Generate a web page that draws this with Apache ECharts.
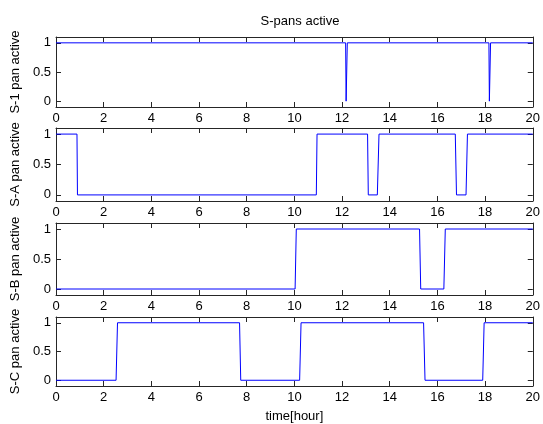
<!DOCTYPE html>
<html><head><meta charset="utf-8">
<script src="https://cdn.jsdelivr.net/npm/echarts@6/dist/echarts.min.js"></script>
<style>html,body{margin:0;padding:0;background:#fff}#c{width:543px;height:424px}</style>
</head><body><div id="c"></div>
<script>
var titleText = 'S-pans active';
var xLabel = 'time[hour]';
var xTicks = [0,2,4,6,8,10,12,14,16,18,20];
var yTicks = [0,0.5,1];
var panelNames = ['S-1 pan active','S-A pan active','S-B pan active','S-C pan active'];

var s1Time = [0, 12.15, 12.17, 12.22, 18.16, 18.18, 18.23, 20];
var s1Val  = [1, 1,     0,     1,     1,     0,     1,     1];
var sATime = [0, 0.88, 0.9, 10.92, 10.95, 13.07, 13.1, 13.48, 13.55, 16.75, 16.8, 17.2, 17.26, 20];
var sAVal  = [1, 1,    0,   0,     1,     1,     0,    0,     1,     1,     0,    0,    1,     1];
var sBTime = [0, 10.03, 10.08, 15.25, 15.3, 16.27, 16.33, 20];
var sBVal  = [0, 0,     1,     1,     0,    0,     1,     1];
var sCTime = [0, 2.52, 2.58, 7.7, 7.75, 10.22, 10.28, 15.42, 15.48, 17.9, 17.96, 20];
var sCVal  = [0, 0,    1,    1,   0,    0,     1,     1,     0,     0,    1,     1];

var seriesTimes = [s1Time, sATime, sBTime, sCTime];
var seriesVals = [s1Val, sAVal, sBVal, sCVal];

var font = 'Liberation Sans, Arial, sans-serif';
var axisColor = '#262626';
var grids = [
  {left:56, right:9, top:37, height:70},
  {left:56, right:9, top:128, height:73},
  {left:56, right:9, top:223, height:72},
  {left:56, right:9, top:317, height:71}
];
var xAxes = [], yAxes = [], series = [];
for (var i = 0; i < 4; i++) {
  xAxes.push({
    gridIndex:i, type:'value', min:0, max:20, interval:2, position:'bottom',
    axisLine:{show:true, onZero:false, lineStyle:{color:axisColor, width:1}},
    axisTick:{show:true, inside:true, length:5, lineStyle:{color:axisColor}},
    axisLabel:{show:true, color:'#000', fontFamily:font, fontSize:13, margin:5, showMaxLabel:true, showMinLabel:true},
    splitLine:{show:false},
    name: i === 3 ? xLabel : '', nameLocation:'middle', nameGap:24,
    nameTextStyle:{color:'#000', fontFamily:font, fontSize:13}
  });
  xAxes.push({
    gridIndex:i, type:'value', min:0, max:20, interval:2, position:'top',
    axisLine:{show:true, onZero:false, lineStyle:{color:axisColor, width:1}},
    axisTick:{show:true, inside:true, length:5, lineStyle:{color:axisColor}},
    axisLabel:{show:false}, splitLine:{show:false}
  });
  yAxes.push({
    gridIndex:i, type:'value', min:-0.1, max:1.1, position:'left',
    axisLine:{show:true, onZero:false, lineStyle:{color:axisColor, width:1}},
    axisTick:{show:true, inside:true, length:5, customValues:yTicks, lineStyle:{color:axisColor}},
    axisLabel:{show:true, customValues:yTicks, color:'#000', fontFamily:font, fontSize:13, margin:5,
      formatter:function(v){return String(v);}},
    splitLine:{show:false},
    name: panelNames[i], nameLocation:'middle', nameGap:30,
    nameTextStyle:{color:'#000', fontFamily:font, fontSize:13}
  });
  yAxes.push({
    gridIndex:i, type:'value', min:-0.1, max:1.1, position:'right',
    axisLine:{show:true, onZero:false, lineStyle:{color:axisColor, width:1}},
    axisTick:{show:true, inside:true, length:5, customValues:yTicks, lineStyle:{color:axisColor}},
    axisLabel:{show:false}, splitLine:{show:false}
  });
  var d = [];
  for (var k = 0; k < seriesTimes[i].length; k++) d.push([seriesTimes[i][k], seriesVals[i][k]]);
  series.push({
    type:'line', xAxisIndex:2*i, yAxisIndex:2*i, data:d, showSymbol:false, symbol:'none',
    lineStyle:{color:'#0000ff', width:1}, animation:false, silent:true
  });
}
var chart = echarts.init(document.getElementById('c'), null, {renderer:'canvas'});
chart.setOption({
  animation:false,
  backgroundColor:'#fff',
  title:{text:titleText, left:295, top:10, textAlign:'center',
    textStyle:{color:'#000', fontFamily:font, fontSize:13, fontWeight:'normal'}},
  grid:grids, xAxis:xAxes, yAxis:yAxes, series:series
});
</script></body></html>
